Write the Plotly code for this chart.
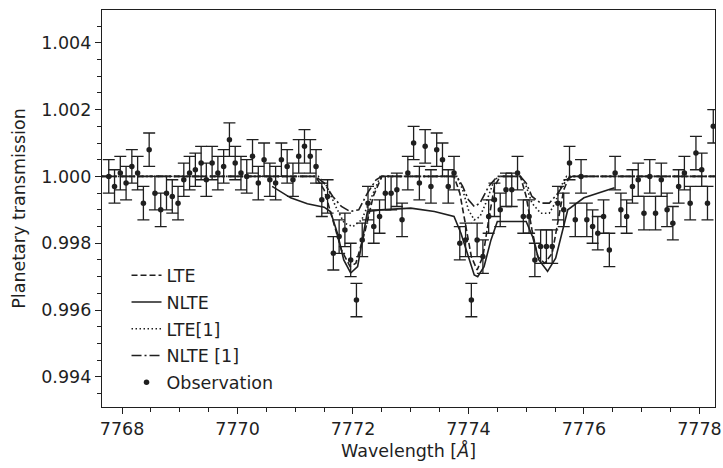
import plotly.graph_objects as go

# ---------------- data ----------------
obs_wave = [
    7767.77, 7767.87, 7767.97, 7768.07, 7768.17, 7768.27, 7768.37, 7768.47, 7768.57, 7768.67,
    7768.77, 7768.87, 7768.97, 7769.07, 7769.17, 7769.27, 7769.37, 7769.46, 7769.56, 7769.66,
    7769.76, 7769.86, 7769.96, 7770.06, 7770.16, 7770.26, 7770.36, 7770.46, 7770.56, 7770.66,
    7770.76, 7770.86, 7770.96, 7771.06, 7771.16, 7771.26, 7771.36, 7771.46, 7771.56, 7771.66,
    7771.76, 7771.86, 7771.96, 7772.06, 7772.16, 7772.26, 7772.36, 7772.46, 7772.56, 7772.66,
    7772.76, 7772.85, 7772.95, 7773.05, 7773.15, 7773.25, 7773.35, 7773.45, 7773.55, 7773.65,
    7773.75, 7773.85, 7773.95, 7774.05, 7774.15, 7774.25, 7774.35, 7774.45, 7774.55, 7774.65,
    7774.75, 7774.85, 7774.95, 7775.05, 7775.15, 7775.25, 7775.35, 7775.45, 7775.55, 7775.65,
    7775.75, 7775.85, 7775.95, 7776.05, 7776.15, 7776.24, 7776.34, 7776.44, 7776.54, 7776.64,
    7776.74, 7776.84, 7776.94, 7777.04, 7777.14, 7777.24, 7777.34, 7777.44, 7777.54, 7777.64,
    7777.74, 7777.84, 7777.94, 7778.04, 7778.14, 7778.24,
]
obs_trans = [
    1.0000, 0.9997, 1.0001, 0.9998, 1.0003, 1.0001, 0.9992, 1.0008, 0.9995, 0.9990,
    0.9995, 0.9994, 0.9992, 0.9999, 1.0001, 1.0002, 1.0004, 0.9999, 1.0004, 1.0001,
    1.0003, 1.0011, 1.0004, 1.0001, 1.0000, 1.0006, 0.9998, 1.0005, 0.9999, 0.9998,
    1.0005, 1.0003, 0.9999, 1.0006, 1.0009, 1.0006, 1.0003, 0.9993, 0.9994, 0.9977,
    0.9982, 0.9984, 0.9975, 0.9963, 0.9981, 0.9992, 0.9985, 0.9988, 0.9995, 0.9995,
    0.9996, 0.9987, 1.0001, 1.0010, 0.9998, 1.0009, 0.9997, 1.0008, 1.0005, 0.9997,
    1.0001, 0.9980, 0.9981, 0.9963, 0.9981, 0.9976, 0.9988, 0.9993, 0.9990, 0.9996,
    0.9996, 1.0001, 0.9988, 0.9988, 0.9975, 0.9979, 0.9979, 0.9979, 0.9992, 0.9990,
    1.0004, 0.9987, 1.0000, 0.9987, 0.9985, 0.9983, 0.9988, 0.9978, 1.0001, 0.9990,
    0.9988, 0.9997, 0.9999, 0.9989, 1.0000, 0.9989, 0.9999, 0.9990, 0.9986, 0.9997,
    1.0001, 0.9992, 1.0007, 1.0002, 0.9992, 1.0015,
]
obs_err = 0.0005

lte_wave = [7767.65, 7771.35, 7771.5, 7771.65, 7771.8, 7771.95, 7772.05, 7772.2, 7772.35, 7772.5,
            7773.75, 7773.85, 7773.95, 7774.05, 7774.15, 7774.25, 7774.35, 7774.45, 7774.55,
            7774.9, 7775.0, 7775.1, 7775.2, 7775.32, 7775.45, 7775.55, 7775.65, 7775.75, 7778.27]
lte_trans = [1.0, 1.0, 0.9996, 0.9987, 0.9978, 0.9973, 0.9974, 0.9983, 0.9994, 1.0,
             1.0, 0.9995, 0.9986, 0.9976, 0.9972, 0.9976, 0.9987, 0.9997, 1.0,
             1.0, 0.9994, 0.9984, 0.9976, 0.9974, 0.9977, 0.9986, 0.9996, 1.0, 1.0]

nlte_wave = [7770.6, 7770.92, 7771.21, 7771.5, 7771.61, 7771.73, 7771.84, 7771.96, 7772.08, 7772.16,
             7772.25, 7772.48, 7773.0, 7773.41, 7773.75, 7773.87, 7773.98, 7774.1, 7774.16, 7774.27,
             7774.39, 7774.5, 7775.0, 7775.11, 7775.22, 7775.37, 7775.51, 7775.6, 7775.72, 7776.0,
             7776.35, 7776.53]
nlte_trans = [0.9997, 0.99936, 0.99918, 0.99908, 0.99895, 0.9983, 0.9975, 0.99711, 0.9973, 0.9981,
              0.99895, 0.9990, 0.99905, 0.99895, 0.9988, 0.9983, 0.9977, 0.99705, 0.9970, 0.9973,
              0.9981, 0.99865, 0.99865, 0.9982, 0.9975, 0.99716, 0.99755, 0.9982, 0.9990, 0.99936,
              0.99955, 0.99966]

lte1_wave = [7767.65, 7771.4, 7771.55, 7771.7, 7771.85, 7772.0, 7772.15, 7772.3, 7772.45, 7772.55,
             7773.8, 7773.9, 7774.0, 7774.1, 7774.2, 7774.3, 7774.45, 7774.55,
             7774.9, 7775.0, 7775.1, 7775.25, 7775.4, 7775.5, 7775.6, 7775.7, 7778.27]
lte1_trans = [1.0, 1.0, 0.9997, 0.9991, 0.9986, 0.9985, 0.9987, 0.9993, 0.9999, 1.0,
              1.0, 0.9996, 0.9990, 0.9987, 0.9988, 0.9992, 0.9999, 1.0,
              1.0, 0.9997, 0.9992, 0.9989, 0.9989, 0.9992, 0.9997, 1.0, 1.0]

nlte1_wave = [7767.65, 7771.35, 7771.5, 7771.65, 7771.8, 7771.95, 7772.1, 7772.25, 7772.4, 7772.5,
              7773.8, 7773.9, 7774.0, 7774.1, 7774.2, 7774.35, 7774.5,
              7774.9, 7775.0, 7775.1, 7775.25, 7775.4, 7775.55, 7775.7, 7775.8, 7778.27]
nlte1_trans = [1.0, 1.0, 0.9998, 0.9994, 0.9991, 0.99895, 0.9990, 0.9995, 0.9999, 1.0,
               1.0, 0.9997, 0.9993, 0.9991, 0.9992, 0.9997, 1.0,
               1.0, 0.9998, 0.9994, 0.9992, 0.9992, 0.9995, 0.9999, 1.0, 1.0]

x_ticks = [7768, 7770, 7772, 7774, 7776, 7778]
y_ticks = [0.994, 0.996, 0.998, 1.000, 1.002, 1.004]

# ---------------- figure ----------------
INK = "#1f1f1f"
FONT = "DejaVu Sans"
FS = 17.5

fig = go.Figure()

line_specs = [
    ("LTE", lte_wave, lte_trans, "6px,3px"),
    ("NLTE", nlte_wave, nlte_trans, "solid"),
    ("LTE[1]", lte1_wave, lte1_trans, "1.5px,2.5px"),
    ("NLTE [1]", nlte1_wave, nlte1_trans, "10px,3px,2px,3px"),
]
for i, (name, xs, ys, dash) in enumerate(line_specs):
    fig.add_trace(go.Scatter(
        x=xs, y=ys, mode="lines", name=name,
        line=dict(color=INK, width=1.6, dash=dash),
        legendgroup=f"g{i}",
    ))

fig.add_trace(go.Scatter(
    x=obs_wave, y=obs_trans, mode="markers", name="Observation",
    marker=dict(color=INK, size=5.5),
    error_y=dict(type="constant", value=obs_err, color=INK, thickness=1.3, width=6),
    legendgroup="g4",
))

axis_common = dict(
    showgrid=False, zeroline=False, showline=True, mirror=True,
    linecolor=INK, linewidth=1.3, automargin=False,
    ticks="outside", ticklen=6, tickwidth=1.2, tickcolor=INK,
    tickfont=dict(family=FONT, size=FS, color=INK),
)

fig.update_xaxes(
    range=[7767.653, 7778.27], tickvals=x_ticks, ticktext=[str(v) for v in x_ticks],
    title=dict(text="Wavelength [<i>Å</i>]", font=dict(family=FONT, size=FS, color=INK), standoff=6),
    minor=dict(dtick=0.5, tick0=7768, ticks="outside", ticklen=3.5, tickwidth=1.0, tickcolor=INK),
    **axis_common,
)
fig.update_yaxes(
    range=[0.99310, 1.00498], tickvals=y_ticks, ticktext=[f"{v:.3f}" for v in y_ticks],
    title=dict(text="Planetary transmission", font=dict(family=FONT, size=FS, color=INK), standoff=11),
    minor=dict(dtick=0.0005, tick0=0.994, ticks="outside", ticklen=3.5, tickwidth=1.0, tickcolor=INK),
    **axis_common,
)

fig.update_layout(
    width=723, height=468,
    margin=dict(l=102, r=8, t=10, b=61),
    paper_bgcolor="white", plot_bgcolor="white",
    font=dict(family=FONT, size=FS, color=INK),
    showlegend=True,
    legend=dict(
        x=0.04, y=0.377, xanchor="left", yanchor="top",
        bgcolor="rgba(0,0,0,0)", borderwidth=0,
        traceorder="grouped", tracegroupgap=1,
        font=dict(family=FONT, size=FS, color=INK),
    ),
)

# remove the default 8px page margin so the figure sits at the window origin
fig.write_html(
    "out.html",
    config={"displayModeBar": False},
    post_script="document.body.style.margin='0';document.body.style.padding='0';document.body.style.overflow='hidden';",
)
